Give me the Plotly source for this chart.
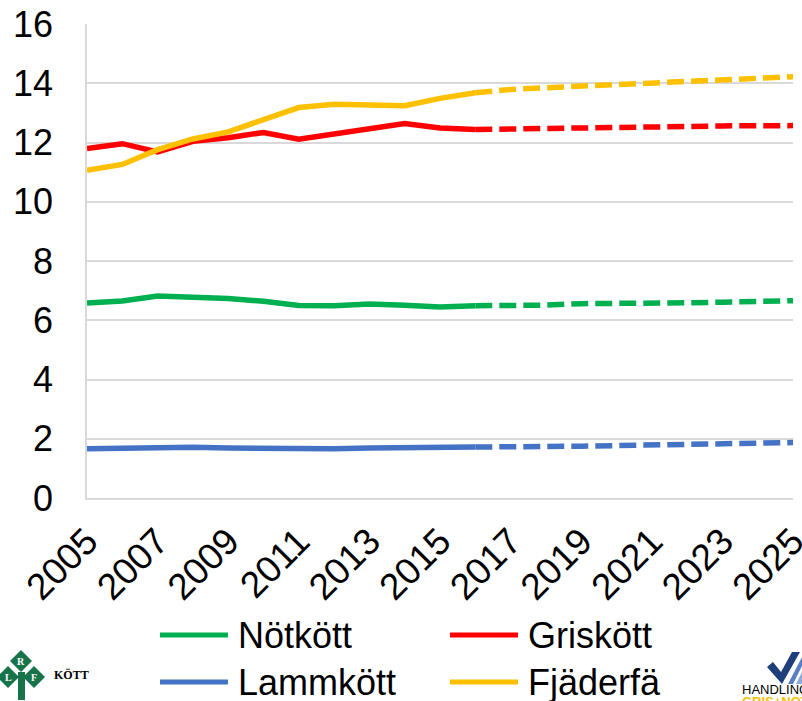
import plotly.graph_objects as go

# Years: observed (solid) and projection (dashed)
years_hist = list(range(2005, 2017))
years_proj = list(range(2016, 2026))

series_names = ["Nötkött", "Griskött", "Lammkött", "Fjäderfä"]
series_colors = ["#00B050", "#FF0000", "#4472C4", "#FFC000"]

# kg per capita
notkott_hist = [6.58, 6.65, 6.82, 6.78, 6.73, 6.64, 6.50, 6.49, 6.55, 6.51, 6.45, 6.49]
griskott_hist = [11.80, 11.96, 11.68, 12.04, 12.16, 12.34, 12.11, 12.30, 12.49, 12.64, 12.49, 12.44]
lammkott_hist = [1.66, 1.69, 1.72, 1.71, 1.69, 1.67, 1.64, 1.66, 1.69, 1.71, 1.71, 1.72]
fjaderfa_hist = [11.06, 11.26, 11.76, 12.12, 12.36, 12.75, 13.18, 13.29, 13.26, 13.24, 13.49, 13.68]

notkott_proj = [6.49, 6.49, 6.51, 6.56, 6.56, 6.58, 6.59, 6.61, 6.63, 6.66]
griskott_proj = [12.44, 12.45, 12.49, 12.51, 12.52, 12.53, 12.54, 12.56, 12.56, 12.57]
lammkott_proj = [1.72, 1.72, 1.72, 1.75, 1.77, 1.80, 1.82, 1.83, 1.85, 1.87]
fjaderfa_proj = [13.68, 13.79, 13.85, 13.90, 13.96, 14.00, 14.05, 14.12, 14.15, 14.22]

x_tick_vals = list(range(2005, 2026, 2))
x_tick_text = [str(v) for v in x_tick_vals]
y_tick_vals = list(range(0, 17, 2))

hist = [notkott_hist, griskott_hist, lammkott_hist, fjaderfa_hist]
proj = [notkott_proj, griskott_proj, lammkott_proj, fjaderfa_proj]

W, H = 802, 701
ML, MR, MT, MB = 87, 9, 24, 203
PW, PH = W - ML - MR, H - MT - MB

FONT = "Liberation Sans, Arial, sans-serif"

fig = go.Figure()
for name, color, yp in zip(series_names, series_colors, proj):
    fig.add_trace(go.Scatter(x=years_proj, y=yp, mode="lines", name=name,
                             line=dict(color=color, width=5.5, dash="17px,7px"),
                             showlegend=False, hoverinfo="skip"))
for name, color, yh in zip(series_names, series_colors, hist):
    fig.add_trace(go.Scatter(x=years_hist, y=yh, mode="lines", name=name,
                             line=dict(color=color, width=5.5),
                             showlegend=False))


def px_x(px):
    return (px - ML) / PW


def px_y(py):
    return (H - MB - py) / PH


shapes = []
annotations = []

# Legend: two columns, two rows
legend_pos = [(160, 635), (450, 635), (160, 682), (450, 682)]
for (lx, ly), name, color in zip(legend_pos, series_names, series_colors):
    shapes.append(dict(type="line", xref="paper", yref="paper",
                       x0=px_x(lx), x1=px_x(lx + 68), y0=px_y(ly), y1=px_y(ly),
                       line=dict(color=color, width=5)))
    annotations.append(dict(xref="paper", yref="paper", x=px_x(lx + 76), y=px_y(ly),
                            text=name, showarrow=False, xanchor="left", yanchor="middle",
                            height=38, valign="middle",
                            font=dict(family=FONT, size=36, color="black")))


def path(points):
    return "M " + " L ".join(f"{px_x(a)},{px_y(b)}" for a, b in points) + " Z"


# LRF Kött emblem (bottom left)
lrf_green = "#17734A"
diamonds = [(21, 661, "R"), (8, 677, "L"), (34, 677, "F")]
shapes.append(dict(type="path", xref="paper", yref="paper",
                   path=path([(18, 672), (25, 672), (25, 700), (18, 700)]),
                   fillcolor=lrf_green, line=dict(width=0)))
for cx, cy, letter in diamonds:
    r = 11
    shapes.append(dict(type="path", xref="paper", yref="paper",
                       path=path([(cx, cy - r), (cx + r, cy), (cx, cy + r), (cx - r, cy)]),
                       fillcolor=lrf_green, line=dict(width=0)))
    annotations.append(dict(xref="paper", yref="paper", x=px_x(cx), y=px_y(cy),
                            text=f"<b>{letter}</b>", showarrow=False,
                            xanchor="center", yanchor="middle",
                            font=dict(family="Liberation Serif, serif", size=10, color="white")))
annotations.append(dict(xref="paper", yref="paper", x=px_x(52), y=px_y(675),
                        text="<b>KÖTT</b>", showarrow=False, xanchor="left", yanchor="middle",
                        font=dict(family="Liberation Serif, serif", size=12, color="black")))

# Handlingsplan Gris + Nöt emblem (bottom right)
shapes.append(dict(type="path", xref="paper", yref="paper",
                   path=path([(767, 667), (773, 662), (781, 672), (792, 652), (800, 652), (782, 684)]),
                   fillcolor="#1F3E7C", line=dict(width=0)))
shapes.append(dict(type="path", xref="paper", yref="paper",
                   path=path([(788, 684), (802, 657), (802, 666), (793, 684)]),
                   fillcolor="#5B7FC4", line=dict(width=0)))
shapes.append(dict(type="path", xref="paper", yref="paper",
                   path=path([(796, 684), (802, 672), (802, 684)]),
                   fillcolor="#8FA9DA", line=dict(width=0)))
annotations.append(dict(xref="paper", yref="paper", x=px_x(740), y=px_y(689),
                        text="HANDLINGSPLAN", showarrow=False, xanchor="left", yanchor="middle",
                        height=11, valign="middle",
                        font=dict(family=FONT, size=13, color="black")))
annotations.append(dict(xref="paper", yref="paper", x=px_x(740), y=px_y(701),
                        text="<b>GRIS+NÖT</b>", showarrow=False, xanchor="left", yanchor="middle",
                        height=11, valign="middle",
                        font=dict(family=FONT, size=13, color="#F2C200")))

fig.update_layout(
    width=W, height=H,
    margin=dict(l=ML, r=MR, t=MT, b=MB, pad=0, autoexpand=False),
    paper_bgcolor="white", plot_bgcolor="white",
    font=dict(family=FONT, size=36, color="black"),
    shapes=shapes, annotations=annotations,
    showlegend=False,
)
fig.update_xaxes(range=[2005, 2025.0001], tickmode="array", tickvals=x_tick_vals,
                 ticktext=x_tick_text, tickangle=-45, showgrid=False,
                 showline=True, linecolor="#D9D9D9", linewidth=1.5,
                 zeroline=False, ticks="", tickfont=dict(size=37),
                 automargin=False, ticklabeloverflow="allow", ticklabelstandoff=5)
fig.update_yaxes(range=[0, 16], tickmode="array", tickvals=y_tick_vals,
                 showgrid=True, gridcolor="#D9D9D9", gridwidth=1.5,
                 showline=True, linecolor="#D9D9D9", linewidth=1.5,
                 zeroline=False, ticks="", ticklabelstandoff=25, tickfont=dict(size=36),
                 automargin=False, ticklabeloverflow="allow")

fig.write_html("out.html")
